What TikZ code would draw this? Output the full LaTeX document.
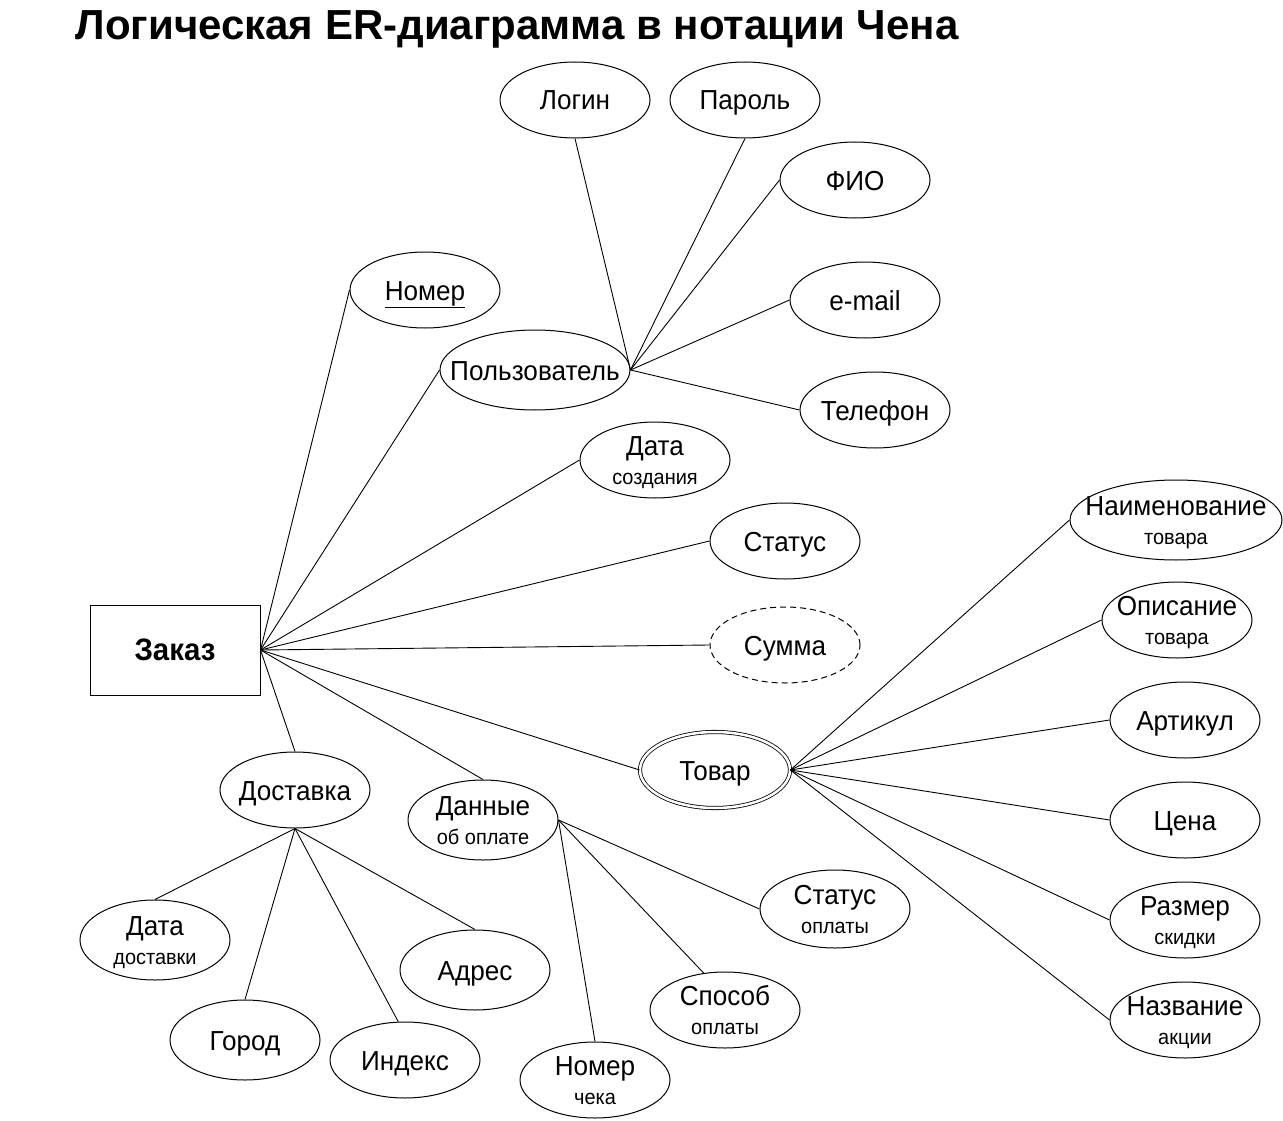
\documentclass[tikz,border=0pt]{standalone}
\usepackage{fontspec}
\setmainfont{Liberation Sans}
\newfontfamily\labelfont[FakeStretch=0.95]{Liberation Sans}
\usetikzlibrary{shapes.geometric}

\newcommand{\subline}[1]{\\[0pt]{\fontsize{21}{23}\selectfont #1}}

\begin{document}
\begin{tikzpicture}[
  x=1pt, y=-1pt,
  font=\labelfont\fontsize{27.5}{29}\selectfont,
  entity/.style  = {draw, line width=1pt, minimum width=170pt,
                    minimum height=90pt, inner sep=0pt,
                    font=\labelfont\fontsize{31}{33}\selectfont\bfseries},
  attr/.style    = {draw, ellipse, line width=1pt, minimum width=150pt,
                    minimum height=76pt, inner xsep=-30pt, inner ysep=-14pt,
                    text height=25pt, text depth=5pt, align=center},
  twoline/.style = {text height=53pt, text depth=5pt},
  derived/.style = {attr, dash pattern=on 6pt off 4pt},
  weak/.style    = {attr, double, double distance=2.5pt, line width=0.8pt},
  link/.style    = {line width=0.9pt},
]
\useasboundingbox (0,0) rectangle (1283,1121);

% ===== Title =====
\node[anchor=west, font=\fontsize{42}{46}\selectfont\bfseries] (title)
      at (72,29) {Логическая ER-диаграмма в нотации Чена};

% ===== Entity =====
\node[entity] (zakaz) at (175,650) {Заказ};

% ===== Order attributes =====
\node[attr] (nomer)  at (425,290) {\underline{Номер}};
\node[attr, minimum width=190pt, minimum height=80pt] (polz) at (535,370)
      {Пользователь};
\node[attr, twoline] (datacr) at (655,460) {Дата\subline{создания}};
\node[attr] (status) at (785,541) {Статус};
\node[derived] (summa) at (785,645) {Сумма};
\node[weak] (tovar)   at (715,770) {Товар};
\node[attr] (dostav) at (295,790) {Доставка};
\node[attr, twoline, minimum height=80pt] (oplata) at (483,820)
      {Данные\subline{об оплате}};

% ===== User attributes =====
\node[attr] (login)  at (575,100) {Логин};
\node[attr] (parol)  at (745,100) {Пароль};
\node[attr] (fio)    at (855,180) {ФИО};
\node[attr] (email)  at (865,300) {e-mail};
\node[attr] (tel)    at (875,410) {Телефон};

% ===== Product attributes =====
\node[attr, twoline, minimum width=212pt, minimum height=80pt] (naimen)
      at (1176,520) {Наименование\subline{товара}};
\node[attr, twoline] (opis)   at (1177,620) {Описание\subline{товара}};
\node[attr] (artik)  at (1185,720) {Артикул};
\node[attr] (cena)   at (1185,820) {Цена};
\node[attr, twoline] (skidka) at (1185,920) {Размер\subline{скидки}};
\node[attr, twoline] (akcia)  at (1185,1020) {Название\subline{акции}};

% ===== Delivery attributes =====
\node[attr, twoline, minimum height=80pt] (datad) at (155,940)
      {Дата\subline{доставки}};
\node[attr, minimum height=80pt] (gorod) at (245,1040) {Город};
\node[attr] (indeks) at (405,1060) {Индекс};
\node[attr, minimum height=80pt] (adres) at (475,970) {Адрес};

% ===== Payment attributes =====
\node[attr, twoline] (chek)   at (595,1080) {Номер\subline{чека}};
\node[attr, twoline] (sposob) at (725,1010) {Способ\subline{оплаты}};
\node[attr, twoline, minimum height=78pt] (statop) at (835,909)
      {Статус\subline{оплаты}};

% ===== Connectors =====
\foreach \t/\a in {nomer/west, polz/west, datacr/west, status/west,
                   summa/west, tovar/west, oplata/north, dostav/north}
  \draw[link] (zakaz.east) -- (\t.\a);

\foreach \t/\a in {login/south, parol/south, fio/west, email/west, tel/west}
  \draw[link] (polz.east) -- (\t.\a);

\foreach \t in {naimen, opis, artik, cena, skidka, akcia}
  \draw[link] (tovar.east) -- (\t.west);

\foreach \t/\a in {datad/north, gorod/north, indeks/100, adres/north}
  \draw[link] (dostav.south) -- (\t.\a);

\foreach \t/\a in {statop/west, sposob/120, chek/north}
  \draw[link] (oplata.east) -- (\t.\a);

\end{tikzpicture}
\end{document}
